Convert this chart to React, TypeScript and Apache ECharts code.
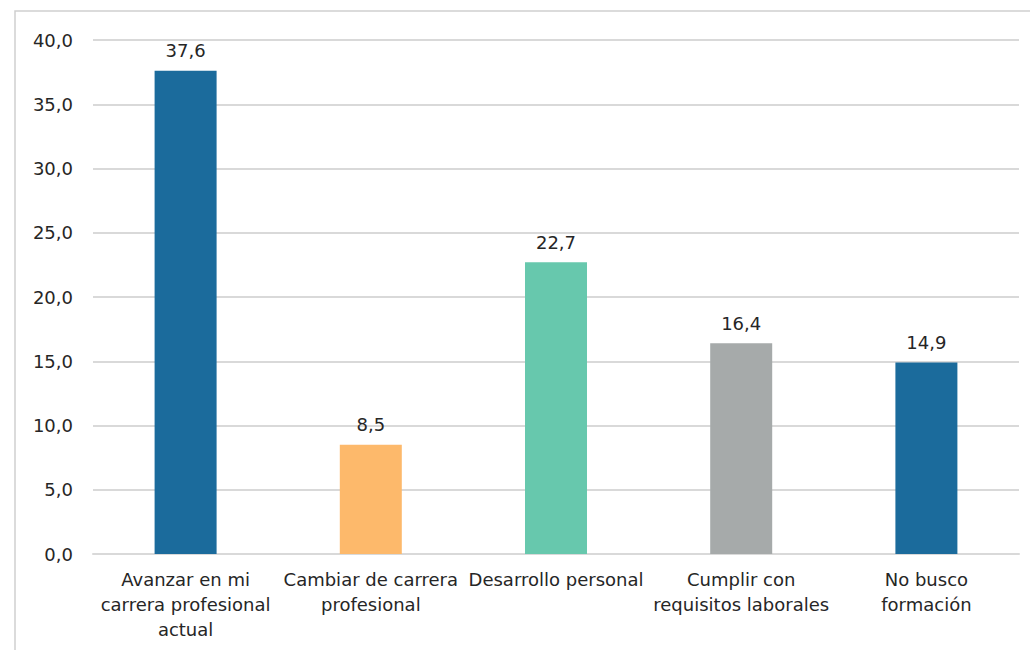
import React, { useEffect, useRef } from "react";
import * as echarts from "echarts";

const categories = [
  "Avanzar en mi\ncarrera profesional\nactual",
  "Cambiar de carrera\nprofesional",
  "Desarrollo personal",
  "Cumplir con\nrequisitos laborales",
  "No busco\nformación",
];
const values = [37.6, 8.5, 22.7, 16.4, 14.9];
const colors = ["#1B6B9C", "#FDB96B", "#67C8AD", "#A6AAAA", "#1B6B9C"];

const fmt = (v: number) => v.toFixed(1).replace(".", ",");

export default function App() {
  const ref = useRef<HTMLDivElement>(null);
  useEffect(() => {
    if (!ref.current) return;
    const chart = echarts.init(ref.current, undefined, { renderer: "svg" });
    chart.setOption({
      animation: false,
      backgroundColor: "#ffffff",
      textStyle: { fontFamily: "DejaVu Sans, sans-serif" },
      graphic: [
        {
          type: "rect",
          shape: { x: 15, y: 11, width: 1100, height: 700 },
          style: { fill: "none", stroke: "#cfcfcf", lineWidth: 1.5 },
          z: -1,
        },
      ],
      grid: { left: 93, right: 11, top: 40, bottom: 96, containLabel: false },
      xAxis: {
        type: "category",
        data: categories,
        axisTick: { show: false },
        axisLine: { lineStyle: { color: "#d9d9d9", width: 2 } },
        axisLabel: {
          interval: 0,
          color: "#262626",
          fontSize: 18,
          lineHeight: 25,
          margin: 13,
        },
      },
      yAxis: {
        type: "value",
        min: 0,
        max: 40,
        interval: 5,
        axisLine: { show: false },
        axisTick: { show: false },
        splitLine: { lineStyle: { color: "#d9d9d9", width: 2 } },
        axisLabel: {
          color: "#262626",
          fontSize: 18,
          margin: 20,
          formatter: (v: number) => fmt(v),
        },
      },
      series: [
        {
          type: "bar",
          barWidth: 62,
          data: values.map((v, i) => ({ value: v, itemStyle: { color: colors[i] } })),
          label: {
            show: true,
            position: "top",
            distance: 11,
            color: "#262626",
            fontSize: 18,
            formatter: (p: any) => fmt(p.value),
          },
        },
      ],
    });
    return () => chart.dispose();
  }, []);
  return (
    <div
      ref={ref}
      style={{ position: "fixed", left: 0, top: 0, width: 1030, height: 650 }}
    />
  );
}
